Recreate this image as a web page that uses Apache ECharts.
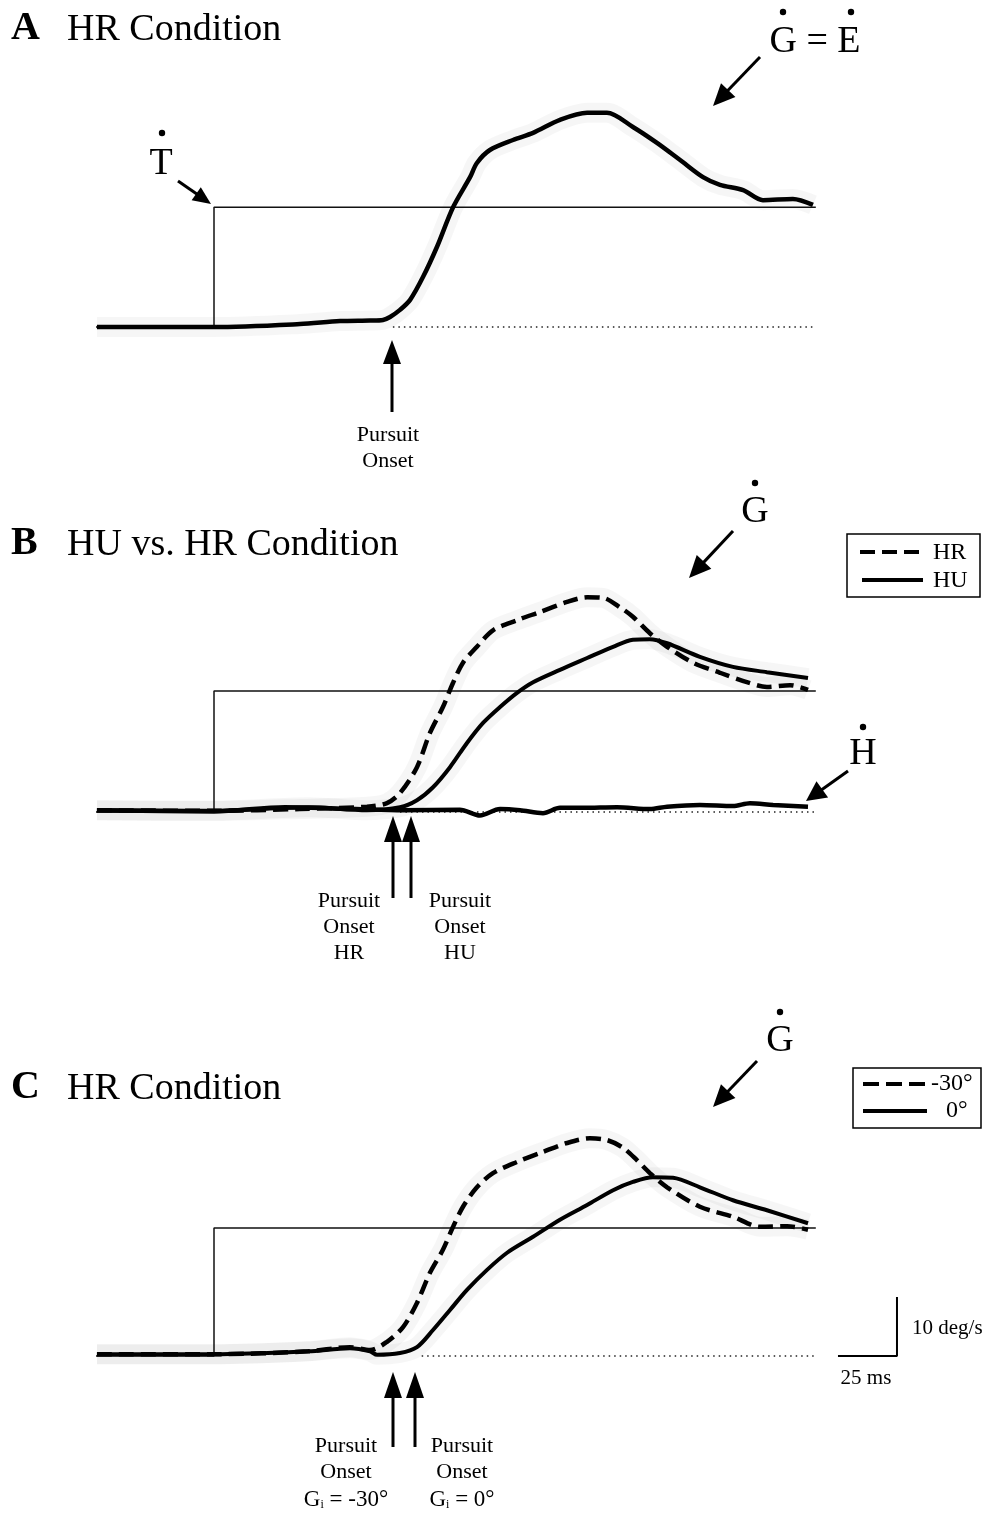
<!DOCTYPE html>
<html><head><meta charset="utf-8">
<script src="https://cdn.jsdelivr.net/npm/echarts@6/dist/echarts.min.js"></script>
<style>html,body{margin:0;padding:0;background:#fff}#c{width:994px;height:1513px}</style>
</head><body><div id="c"></div>
<script>
// time in ms relative to target motion onset, velocity in deg/s
const targetA = [[-50,0],[0,0],[0,20.3],[255,20.3]];
const gazeA = [[-49.6,0],[0,0],[36.4,0.5],[53.4,1.0],[66.1,1.1],[71.6,1.2],[74.6,1.7],[78.8,2.9],[83.1,4.6],[88.6,8.5],[94.5,13.6],[101.3,20.3],[108.5,25.4],[111.4,27.8],[116.9,30.0],[126.7,31.7],[135.2,32.9],[146.6,35.1],[158.1,36.3],[166.5,36.3],[177.5,33.9],[187.7,31.2],[197.5,28.3],[207.2,25.4],[214.4,24.1],[224.2,23.2],[232.6,21.5],[245.3,21.7],[253.8,20.7]];
const baseA = [[75.8,0],[255,0]];

const targetB = [[-50,0],[0,0],[0,20.5],[255,20.5]];
const gazeHR_B = [[-49.6,0.3],[0,0.2],[36.4,0.5],[64.8,0.9],[73.3,1.5],[78.8,3.2],[86.0,7.6],[91.5,13.4],[97.0,17.8],[101.3,21.9],[105.5,25.3],[111.4,28.0],[118.2,30.8],[128.4,32.5],[138.1,33.9],[149.6,35.6],[158.1,36.4],[164.8,36.3],[172.0,34.7],[177.5,33.1],[184.7,30.3],[192.0,28.0],[203.0,25.3],[214.4,23.6],[225.8,22.0],[234.3,21.2],[244.1,21.5],[251.7,20.7]];
const gazeHU_B = [[-49.6,0.3],[0,0.2],[40,0.8],[64.8,0.3],[78.8,0.8],[86.0,2.0],[92.8,4.2],[100.0,7.6],[107.2,11.7],[114.0,15.1],[121.2,17.8],[128.4,20.2],[135.2,22.0],[146.6,24.1],[158.1,26.1],[169.1,28.0],[177.5,29.2],[184.7,29.3],[192.0,28.6],[205.9,26.3],[219.9,24.6],[234.3,23.7],[251.7,22.7]];
const headB = [[-49.6,0.3],[0,0.1],[30,0.8],[60,0.5],[80,0.3],[104.2,0.4],[112.7,-0.6],[121.2,0.5],[129.7,0.3],[139.4,-0.2],[146.6,0.7],[156.4,0.7],[170.8,0.8],[184.7,0.5],[192.0,0.9],[205.9,1.2],[219.9,1.0],[227.1,1.5],[236.9,1.2],[251.7,0.9]];
const baseB = [[78.8,0],[255,0]];

const targetC = [[-50,0],[0,0],[0,21.7],[255,21.7]];
const gazeM30_C = [[-49.6,0.3],[0,0.3],[40,0.8],[57.6,1.5],[66.1,1.0],[73.3,2.4],[80.1,4.9],[86.0,9.0],[91.5,14.1],[97.0,18.0],[101.3,21.9],[105.5,25.3],[111.4,28.6],[118.2,31.0],[128.4,32.9],[139.4,34.6],[149.6,36.1],[159.3,36.9],[166.5,36.6],[173.3,35.3],[179.2,33.2],[184.7,31.0],[192.0,28.6],[205.9,25.3],[219.9,23.6],[231.4,21.9],[242.8,22.0],[251.7,21.4]];
const gaze0_C = [[-49.6,0.3],[0,0.3],[40,0.8],[57.6,1.3],[66.1,0.8],[69.1,0.2],[78.8,0.5],[86.0,1.5],[92.8,4.4],[100.0,7.8],[107.2,11.2],[115.7,14.6],[124.2,17.5],[135.2,20.2],[146.6,23.1],[158.1,25.6],[169.1,28.1],[177.5,29.5],[186.0,30.3],[194.5,30.2],[205.9,28.6],[219.9,26.4],[234.3,24.7],[251.7,22.5]];
const baseC = [[88,0],[255,0]];

const scaleBar = [[264.4,0],[289.4,0],[289.4,10]]; // 25 ms, 10 deg/s

const SERIF = '"Liberation Serif", "DejaVu Serif", serif';
const panelTops = [91, 576, 1120];
const grids = panelTops.map(t => ({left: 96, top: t, width: 826, height: 295}));
const xAxes = grids.map((g,i) => ({gridIndex:i, type:'value', min:-50, max:300, show:false}));
const yAxes = grids.map((g,i) => ({gridIndex:i, type:'value', min:-10, max:40, show:false}));

function ln(idx, data, opts) {
  return Object.assign({
    type:'line', xAxisIndex:idx, yAxisIndex:idx, data, showSymbol:false, silent:true,
    animation:false
  }, opts);
}
const band = {color:'rgba(0,0,0,0.035)', width:20};
const series = [
  // faint trial spread bands
  ln(0, gazeA, {smooth:0.3, lineStyle:band, z:1}),
  ln(1, gazeHR_B, {smooth:0.3, lineStyle:band, z:1}),
  ln(1, gazeHU_B, {smooth:0.3, lineStyle:band, z:1}),
  ln(2, gazeM30_C, {smooth:0.3, lineStyle:band, z:1}),
  ln(2, gaze0_C, {smooth:0.3, lineStyle:band, z:1}),
  // targets
  ln(0, targetA, {lineStyle:{color:'#111', width:1.5}, z:2}),
  ln(1, targetB, {lineStyle:{color:'#111', width:1.5}, z:2}),
  ln(2, targetC, {lineStyle:{color:'#111', width:1.5}, z:2}),
  // dotted baselines
  ln(0, baseA, {lineStyle:{color:'#222', width:1.6, type:[1.5,4]}, z:2}),
  ln(1, baseB, {lineStyle:{color:'#222', width:1.6, type:[1.5,4]}, z:2}),
  ln(2, baseC, {lineStyle:{color:'#222', width:1.6, type:[1.5,4]}, z:2}),
  // traces
  ln(0, gazeA, {smooth:0.3, lineStyle:{color:'#000', width:4.5}, z:5}),
  ln(1, headB, {smooth:0.3, lineStyle:{color:'#000', width:4.5}, z:5}),
  ln(1, gazeHU_B, {smooth:0.3, lineStyle:{color:'#000', width:4}, z:5}),
  ln(1, gazeHR_B, {smooth:0.3, lineStyle:{color:'#000', width:4.5, type:[15,7]}, z:6}),
  ln(2, gaze0_C, {smooth:0.3, lineStyle:{color:'#000', width:4}, z:5}),
  ln(2, gazeM30_C, {smooth:0.3, lineStyle:{color:'#000', width:4.5, type:[15,7]}, z:6}),
  ln(2, scaleBar, {lineStyle:{color:'#000', width:2}, z:5})
];

function arrow(x1,y1,x2,y2,hl,hw,w) {
  hl = hl||20; hw = hw||8; w = w||3;
  const dx=x2-x1, dy=y2-y1, L=Math.hypot(dx,dy), ux=dx/L, uy=dy/L;
  const bx=x2-ux*hl, by=y2-uy*hl, px=-uy*hw, py=ux*hw;
  return [
    {type:'line', shape:{x1,y1,x2:bx+ux*2,y2:by+uy*2}, style:{stroke:'#000', lineWidth:w}},
    {type:'polygon', shape:{points:[[x2,y2],[bx+px,by+py],[bx-px,by-py]]}, style:{fill:'#000'}}
  ];
}
function txt(x,y,text,size,opts) {
  return {type:'text', x, y, style:Object.assign({text, font:size+'px '+SERIF, fill:'#000', textAlign:'left', textVerticalAlign:'middle'}, opts||{})};
}
function dot(x,y){ return {type:'circle', shape:{cx:x,cy:y,r:3.2}, style:{fill:'#000'}}; }

const g = [];
// titles
g.push(txt(11,29,'A',40,{font:'bold 40px '+SERIF}), txt(67,30,'HR Condition',38));
g.push(txt(11,544,'B',40,{font:'bold 40px '+SERIF}), txt(67,545,'HU vs. HR Condition',38));
g.push(txt(11,1088,'C',40,{font:'bold 40px '+SERIF}), txt(67,1089,'HR Condition',38));
// panel A annotations
g.push(txt(161,164,'T',38,{textAlign:'center'}), dot(162,133));
g.push(...arrow(178,181,211,204,18,8,3));
g.push(txt(815,42,'G = E',38,{textAlign:'center'}), dot(783,12), dot(851,12));
g.push(...arrow(760,57,713,106,22,10,3));
g.push(...arrow(392,412,392,340,24,9,3));
g.push(txt(388,435,'Pursuit',22,{textAlign:'center'}), txt(388,461,'Onset',22,{textAlign:'center'}));
// panel B annotations
g.push(txt(755,512,'G',38,{textAlign:'center'}), dot(755,483));
g.push(...arrow(733,531,689,578,22,10,3));
g.push(txt(863,754,'H',38,{textAlign:'center'}), dot(863,727));
g.push(...arrow(848,771,806,801,20,10,3));
g.push(...arrow(393,898,393,816,26,9,3), ...arrow(411,898,411,816,26,9,3));
g.push(txt(349,901,'Pursuit',22,{textAlign:'center'}), txt(349,927,'Onset',22,{textAlign:'center'}), txt(349,953,'HR',22,{textAlign:'center'}));
g.push(txt(460,901,'Pursuit',22,{textAlign:'center'}), txt(460,927,'Onset',22,{textAlign:'center'}), txt(460,953,'HU',22,{textAlign:'center'}));
// legend B
g.push({type:'rect', shape:{x:847,y:534,width:133,height:63}, style:{fill:'none', stroke:'#000', lineWidth:1.5}});
g.push({type:'line', shape:{x1:860,y1:552,x2:920,y2:552}, style:{stroke:'#000', lineWidth:4, lineDash:[15,7]}});
g.push({type:'line', shape:{x1:862,y1:580,x2:923,y2:580}, style:{stroke:'#000', lineWidth:4}});
g.push(txt(933,553,'HR',24), txt(933,581,'HU',24));
// panel C annotations
g.push(txt(780,1041,'G',38,{textAlign:'center'}), dot(780,1012));
g.push(...arrow(757,1061,713,1107,22,10,3));
g.push(...arrow(393,1447,393,1372,26,9,3), ...arrow(415,1447,415,1372,26,9,3));
g.push(txt(346,1446,'Pursuit',22,{textAlign:'center'}), txt(346,1472,'Onset',22,{textAlign:'center'}));
g.push(txt(462,1446,'Pursuit',22,{textAlign:'center'}), txt(462,1472,'Onset',22,{textAlign:'center'}));
g.push({type:'text', x:346, y:1500, style:{text:'{a|G}{s|i}{a| = -30°}', textAlign:'center', textVerticalAlign:'middle', rich:{a:{font:'23px '+SERIF, fill:'#000'}, s:{font:'12px '+SERIF, fill:'#000', padding:[10,0,0,0]}}}});
g.push({type:'text', x:462, y:1500, style:{text:'{a|G}{s|i}{a| = 0°}', textAlign:'center', textVerticalAlign:'middle', rich:{a:{font:'23px '+SERIF, fill:'#000'}, s:{font:'12px '+SERIF, fill:'#000', padding:[10,0,0,0]}}}});
// legend C
g.push({type:'rect', shape:{x:853,y:1068,width:128,height:60}, style:{fill:'none', stroke:'#000', lineWidth:1.5}});
g.push({type:'line', shape:{x1:863,y1:1084,x2:927,y2:1084}, style:{stroke:'#000', lineWidth:4, lineDash:[16,7]}});
g.push({type:'line', shape:{x1:863,y1:1111,x2:927,y2:1111}, style:{stroke:'#000', lineWidth:4}});
g.push(txt(931,1084,'-30°',24), txt(946,1111,'0°',24));
// scale bar labels
g.push(txt(912,1328,'10 deg/s',21), txt(866,1378,'25 ms',21,{textAlign:'center'}));

const chart = echarts.init(document.getElementById('c'), null, {renderer:'canvas'});
chart.setOption({animation:false, backgroundColor:'#fff', grid:grids, xAxis:xAxes, yAxis:yAxes, series, graphic:{elements:g}});
</script></body></html>
